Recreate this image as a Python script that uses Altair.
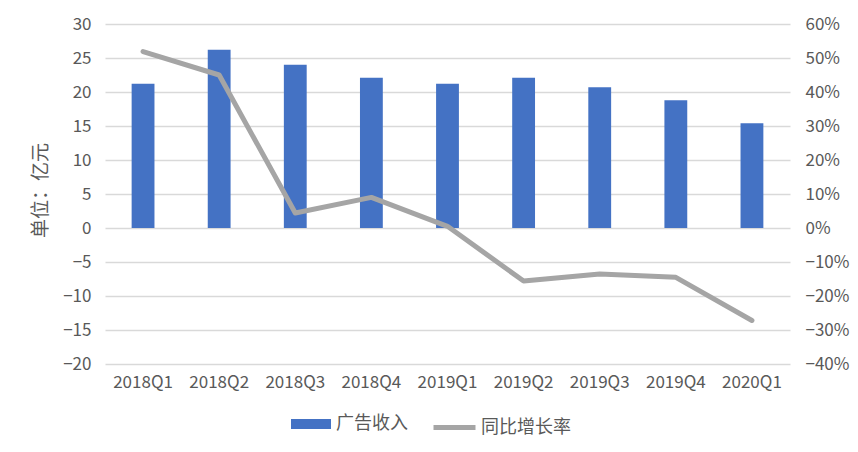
import altair as alt
import pandas as pd

quarters = ["2018Q1", "2018Q2", "2018Q3", "2018Q4", "2019Q1",
            "2019Q2", "2019Q3", "2019Q4", "2020Q1"]
ad_revenue = [21.2, 26.2, 24.0, 22.1, 21.2, 22.1, 20.7, 18.8, 15.4]
yoy_growth = [0.519, 0.45, 0.044, 0.09, 0.005, -0.156, -0.135, -0.145, -0.272]
bar_name = "广告收入"
line_name = "同比增长率"
left_ticks = [-20, -15, -10, -5, 0, 5, 10, 15, 20, 25, 30]
right_ticks = [-0.4, -0.3, -0.2, -0.1, 0.0, 0.1, 0.2, 0.3, 0.4, 0.5, 0.6]

df = pd.DataFrame({
    "q": quarters,
    "rev": ad_revenue,
    "yoy": yoy_growth,
    "s1": [bar_name] * len(quarters),
    "s2": [line_name] * len(quarters),
})

FONT = "Noto Sans CJK SC"
GRAY = "#595959"

x = alt.X("q:N", sort=quarters, title=None,
          scale=alt.Scale(paddingInner=0.7, paddingOuter=0.35),
          axis=alt.Axis(labelAngle=0, ticks=False, domain=False,
                        labelPadding=10, labelFontSize=17,
                        labelColor=GRAY, labelFont=FONT))

bars = alt.Chart(df).mark_bar(color="#4472C4").encode(
    x=x,
    y=alt.Y("rev:Q", title="单位：亿元",
            scale=alt.Scale(domain=[-20, 30], nice=False, zero=False),
            axis=alt.Axis(values=left_ticks, grid=True, gridColor="#D9D9D9",
                          gridWidth=1.3, ticks=False, domain=False,
                          labelPadding=14, labelFontSize=17, labelColor=GRAY,
                          labelFont=FONT, titleFont=FONT, titleFontSize=19,
                          titleFontWeight="normal", titleColor=GRAY,
                          titleX=-65, titleY=166, titleAngle=-90,
                          titleAlign="center", titleBaseline="middle")),
    color=alt.Color("s1:N", scale=alt.Scale(domain=[bar_name], range=["#4472C4"]),
                    legend=alt.Legend(title=None, orient="none", legendX=186,
                                      legendY=380, symbolType="M-1,-0.25H1V0.25H-1Z",
                                      symbolSize=1600, symbolStrokeWidth=0,
                                      labelFontSize=18, labelColor=GRAY,
                                      labelFont=FONT, labelOffset=5)),
)

line = alt.Chart(df).mark_line(strokeWidth=5, strokeCap="round",
                               strokeJoin="round").encode(
    x=x,
    y=alt.Y("yoy:Q", title=None,
            scale=alt.Scale(domain=[-0.4, 0.6], nice=False, zero=False),
            axis=alt.Axis(values=right_ticks, format=".0%", orient="right",
                          grid=False, ticks=False, domain=False,
                          labelPadding=15, labelFontSize=17, labelColor=GRAY,
                          labelFont=FONT)),
    stroke=alt.Stroke("s2:N", scale=alt.Scale(domain=[line_name], range=["#A5A5A5"]),
                      legend=alt.Legend(title=None, orient="none", legendX=326,
                                        legendY=380, symbolType="stroke",
                                        symbolSize=1764, symbolStrokeWidth=5,
                                        labelFontSize=18, labelColor=GRAY,
                                        labelFont=FONT, labelOffset=3)),
)

chart = alt.layer(bars, line).resolve_scale(
    y="independent", color="independent", stroke="independent"
).properties(
    width=685, height=340,
    autosize=alt.AutoSizeParams(type="none"),
    padding={"left": 97, "top": 16, "right": 60, "bottom": 80},
).configure(font=FONT).configure_view(stroke="transparent", strokeWidth=0)

chart.save("out.html", embed_options={"renderer": "svg", "actions": False})
